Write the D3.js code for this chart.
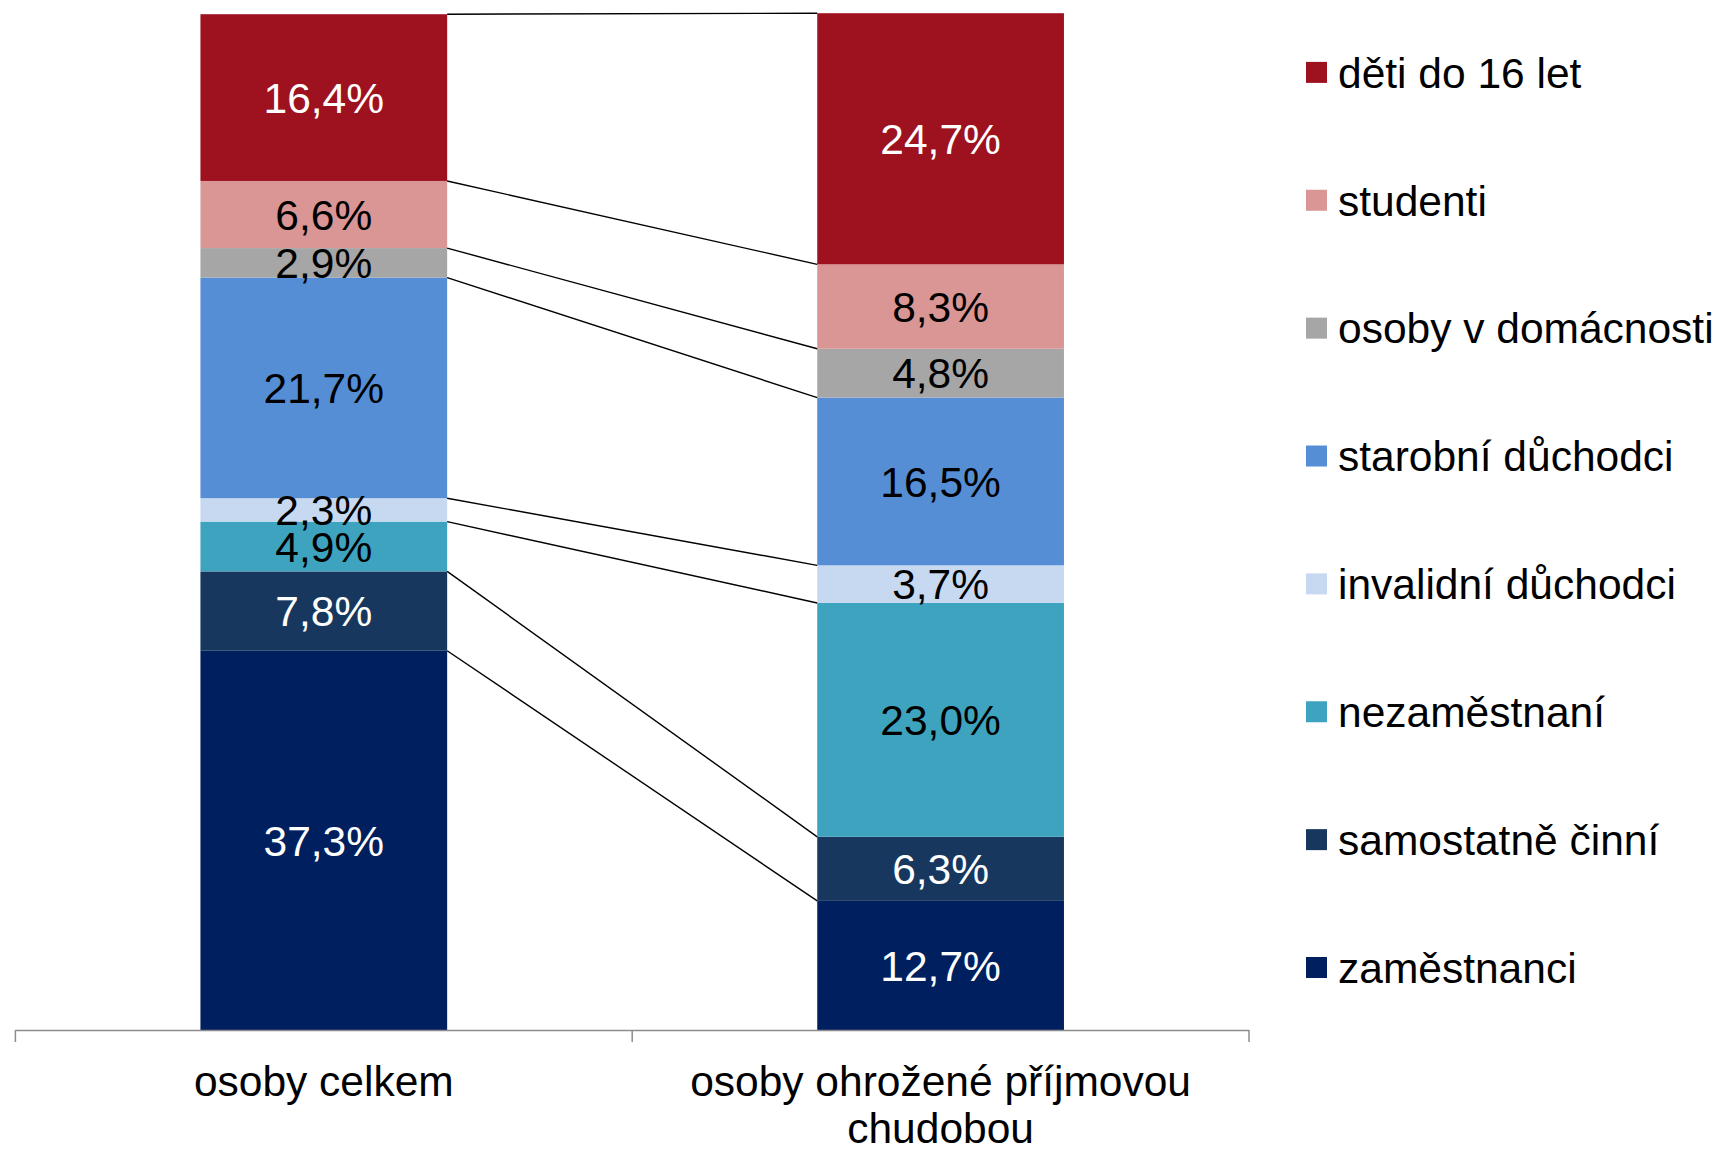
<!DOCTYPE html>
<html>
<head>
<meta charset="utf-8">
<script src="https://cdn.jsdelivr.net/npm/d3@7"></script>
<style>
  html, body { margin: 0; padding: 0; background: #fff; }
  svg { display: block; font-family: "Liberation Sans", Arial, sans-serif; }
</style>
</head>
<body>
<svg id="chart" width="1720" height="1149"></svg>
<script>
// Data (bottom to top of the stack)
const categories = ["osoby celkem", "osoby ohrožené příjmovou chudobou"];
const categoryLines = [["osoby celkem"], ["osoby ohrožené příjmovou", "chudobou"]];
const seriesNames = ["zaměstnanci", "samostatně činní", "nezaměstnaní", "invalidní důchodci",
                     "starobní důchodci", "osoby v domácnosti", "studenti", "děti do 16 let"];
const valuesCelkem   = [37.3, 7.8, 4.9, 2.3, 21.7, 2.9, 6.6, 16.4];
const valuesOhrozene = [12.7, 6.3, 23.0, 3.7, 16.5, 4.8, 8.3, 24.7];
const seriesColors = ["#001F5F", "#17375E", "#3DA3BF", "#C6D9F1",
                      "#558ED5", "#A6A6A6", "#D99694", "#9E1220"];
const labelColors = ["#fff", "#fff", "#000", "#000", "#000", "#000", "#000", "#fff"];

const svg = d3.select("#chart");
const FONT = 42.5;

const rows = categories.map((c, i) => {
  const r = { cat: c };
  const vals = i === 0 ? valuesCelkem : valuesOhrozene;
  seriesNames.forEach((s, j) => r[s] = vals[j]);
  return r;
});

const stack = d3.stack().keys(seriesNames);
const stacked = stack(rows);

const x = d3.scaleBand().domain(categories).range([15.4, 1249]).padding(0);
const y = d3.scaleLinear().domain([0, 100]).range([1030, 13.2]);
const barW = x.bandwidth() * 0.4;
const barX = c => x(c) + (x.bandwidth() - barW) / 2;

// bars
const g = svg.append("g");
stacked.forEach((layer, si) => {
  g.selectAll(null).data(layer).enter().append("rect")
    .attr("x", d => barX(d.data.cat))
    .attr("width", barW)
    .attr("y", d => y(d[1]))
    .attr("height", d => y(d[0]) - y(d[1]))
    .attr("fill", seriesColors[si]);
});

// series lines (connect top of each segment)
stacked.forEach((layer, si) => {
  const a = layer[0], b = layer[1];
  svg.append("line")
    .attr("x1", barX(a.data.cat) + barW)
    .attr("y1", y(a[1]))
    .attr("x2", barX(b.data.cat))
    .attr("y2", y(b[1]))
    .attr("stroke", "#000")
    .attr("stroke-width", 1.4);
});

// labels
stacked.forEach((layer, si) => {
  svg.selectAll(null).data(layer).enter().append("text")
    .attr("x", d => barX(d.data.cat) + barW / 2)
    .attr("y", d => (y(d[0]) + y(d[1])) / 2)
    .attr("dy", "0.36em")
    .attr("text-anchor", "middle")
    .attr("font-size", FONT)
    .attr("fill", labelColors[si])
    .text(d => (d[1] - d[0]).toFixed(1).replace(".", ",") + "%");
});

// x axis
const axisG = svg.append("g");
axisG.append("line")
  .attr("x1", x.range()[0]).attr("x2", x.range()[1])
  .attr("y1", y(0) + 0.5).attr("y2", y(0) + 0.5)
  .attr("stroke", "#8C8C8C").attr("stroke-width", 1.5);
const tickXs = [x(categories[0]), x(categories[1]), x(categories[1]) + x.bandwidth()];
axisG.selectAll(null).data(tickXs).enter().append("line")
  .attr("x1", d => d).attr("x2", d => d)
  .attr("y1", y(0)).attr("y2", y(0) + 12)
  .attr("stroke", "#8C8C8C").attr("stroke-width", 1.5);

categories.forEach((c, i) => {
  const t = axisG.append("text")
    .attr("text-anchor", "middle")
    .attr("font-size", FONT)
    .attr("fill", "#000");
  categoryLines[i].forEach((line, k) => {
    t.append("tspan")
      .attr("x", x(c) + x.bandwidth() / 2)
      .attr("y", 1081 + k * 47)
      .attr("dy", "0.36em")
      .text(line);
  });
});

// legend (top to bottom: reversed series order)
const legendOrder = seriesNames.map((s, i) => i).reverse();
const legY = d3.scalePoint().domain(legendOrder).range([72.4, 967.5]);
const leg = svg.append("g");
legendOrder.forEach(si => {
  leg.append("rect")
    .attr("x", 1306).attr("y", legY(si) - 10.5)
    .attr("width", 21).attr("height", 21)
    .attr("fill", seriesColors[si]);
  leg.append("text")
    .attr("x", 1338).attr("y", legY(si))
    .attr("dy", "0.36em")
    .attr("font-size", FONT)
    .attr("fill", "#000")
    .text(seriesNames[si]);
});
</script>
</body>
</html>
